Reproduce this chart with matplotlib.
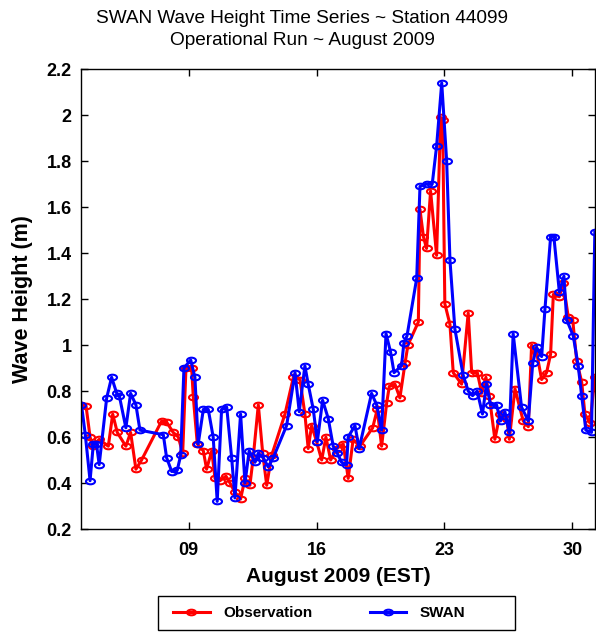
import numpy as np
import matplotlib
matplotlib.use('Agg')
import matplotlib.pyplot as plt
from matplotlib.path import Path
from matplotlib.patches import Rectangle
from matplotlib.ticker import FormatStrFormatter

plt.rcParams['font.family'] = ['Liberation Sans', 'DejaVu Sans']

# time in days of August 2009 (EST)
swan_t = [3.13, 3.34, 3.6, 3.78, 3.95, 4.1, 4.51, 4.78, 5.06, 5.2, 5.56, 5.82, 6.11, 6.33,
          7.61, 7.79, 8.07, 8.37, 8.56, 8.74, 9.11, 9.34, 9.52, 9.8, 10.07, 10.34, 10.56,
          10.8, 11.08, 11.35, 11.53, 11.84, 12.08, 12.31, 12.63, 12.81, 13.08, 13.35, 13.63,
          14.36, 14.82, 15.05, 15.36, 15.54, 15.82, 16.04, 16.33, 16.64, 16.91, 17.13, 17.37,
          17.64, 17.73, 18.1, 18.33, 19.01, 19.29, 19.56, 19.8, 20.05, 20.24, 20.65, 20.78,
          20.95, 21.48, 21.66, 22.02, 22.33, 22.57, 22.85, 23.12, 23.3, 23.57, 24.02, 24.3,
          24.54, 24.79, 25.08, 25.3, 25.52, 25.85, 26.07, 26.31, 26.55, 26.76, 27.22, 27.59,
          27.83, 28.04, 28.32, 28.5, 28.81, 28.99, 29.29, 29.54, 29.69, 30.05, 30.32, 30.51,
          30.74, 31.05, 31.23]
swan_h = [0.74, 0.61, 0.41, 0.57, 0.57, 0.48, 0.77, 0.86, 0.79, 0.78, 0.64, 0.79, 0.74, 0.63,
          0.61, 0.51, 0.45, 0.455, 0.52, 0.90, 0.935, 0.86, 0.57, 0.72, 0.72, 0.60, 0.32,
          0.72, 0.73, 0.51, 0.335, 0.70, 0.40, 0.54, 0.49, 0.53, 0.51, 0.47, 0.51,
          0.65, 0.88, 0.71, 0.91, 0.83, 0.72, 0.58, 0.76, 0.68, 0.56, 0.53, 0.49,
          0.48, 0.60, 0.65, 0.55, 0.79, 0.74, 0.63, 1.05, 0.97, 0.88, 0.91, 1.01,
          1.04, 1.29, 1.69, 1.70, 1.70, 1.865, 2.14, 1.80, 1.37, 1.07, 0.87, 0.80,
          0.78, 0.80, 0.70, 0.83, 0.74, 0.74, 0.67, 0.71, 0.62, 1.05, 0.73, 0.67,
          0.92, 0.99, 0.95, 1.155, 1.47, 1.47, 1.23, 1.30, 1.11, 1.04, 0.91, 0.78,
          0.63, 0.62, 1.49]

obs_t = [3.13, 3.38, 3.6, 3.75, 4.1, 4.6, 4.84, 5.09, 5.56, 5.82, 6.11, 6.42,
         7.52, 7.79, 8.15, 8.43, 8.67, 8.85, 9.16, 9.25, 9.47, 9.8, 9.98, 10.26, 10.44,
         10.71, 11.04, 11.26, 11.53, 11.84, 12.08, 12.35, 12.53, 12.81, 13.05, 13.27, 13.54,
         14.27, 14.73, 15.09, 15.36, 15.54, 15.73, 16.0, 16.28, 16.51, 16.77, 17.1, 17.46,
         17.73, 18.0, 18.37, 19.07, 19.32, 19.56, 19.84, 19.98, 20.29, 20.56, 20.84, 21.0,
         21.57, 21.66, 21.85, 22.02, 22.24, 22.57, 22.79, 22.9, 23.02, 23.3, 23.48, 23.94,
         24.3, 24.49, 24.8, 25.04, 25.27, 25.45, 25.76, 26.04, 26.41, 26.55, 26.86, 27.31,
         27.59, 27.77, 28.04, 28.32, 28.59, 28.81, 28.96, 29.29, 29.5, 29.78, 30.02, 30.24,
         30.51, 30.69, 30.97, 31.23]
obs_h = [0.74, 0.735, 0.60, 0.56, 0.59, 0.56, 0.70, 0.62, 0.56, 0.62, 0.46, 0.50,
         0.67, 0.665, 0.62, 0.60, 0.53, 0.90, 0.90, 0.775, 0.57, 0.54, 0.46, 0.54, 0.42,
         0.41, 0.43, 0.40, 0.36, 0.33, 0.42, 0.39, 0.51, 0.74, 0.53, 0.39, 0.52,
         0.70, 0.86, 0.85, 0.70, 0.55, 0.65, 0.58, 0.50, 0.60, 0.50, 0.55, 0.57,
         0.42, 0.59, 0.56, 0.64, 0.72, 0.56, 0.75, 0.82, 0.83, 0.77, 0.92, 1.0,
         1.10, 1.59, 1.47, 1.42, 1.67, 1.39, 1.99, 1.98, 1.18, 1.09, 0.88, 0.83,
         1.14, 0.88, 0.88, 0.79, 0.86, 0.78, 0.59, 0.70, 0.68, 0.59, 0.81, 0.67,
         0.645, 1.00, 0.97, 0.85, 0.88, 0.96, 1.22, 1.21, 1.27, 1.12, 1.11, 0.93,
         0.84, 0.70, 0.66, 0.86]

day_ticks = [9, 16, 23, 30]
day_labels = ['09', '16', '23', '30']

# squashed circle, the markers look like flat ellipses in the original
circ = Path.unit_circle()
ell = Path(circ.vertices * [1.0, 0.62], circ.codes)

fig = plt.figure(figsize=(5.96, 6.34), dpi=100)
ax = fig.add_axes([0.1367, 0.1656, 0.8613, 0.7254])

ax.plot(obs_t, obs_h, '-', marker=ell, color='red', lw=2.2, ms=6.5, mfc='none', mew=1.5,
        label='Observation')
ax.plot(swan_t, swan_h, '-', marker=ell, color='blue', lw=2.2, ms=6.5, mfc='none', mew=1.5,
        label='SWAN')

ax.set_xlim(3.13, 31.23)
ax.set_ylim(0.2, 2.2)
ax.set_xticks(day_ticks)
ax.set_xticklabels(day_labels)
ax.set_yticks(np.arange(0.2, 2.21, 0.2))
ax.yaxis.set_major_formatter(FormatStrFormatter('%g'))
ax.tick_params(direction='in', top=True, right=True, length=5, width=1,
               labelsize=13, pad=7)
for lab in ax.get_xticklabels() + ax.get_yticklabels():
    lab.set_fontweight('bold')
ax.tick_params(axis='x', pad=9)
for s in ax.spines.values():
    s.set_linewidth(1)

ax.set_xlabel('August 2009 (EST)', fontsize=15, fontweight='bold', labelpad=6)
ax.set_ylabel('Wave Height (m)', fontsize=15.5, fontweight='bold', labelpad=10)
fig.text(0.507, 1 - 29.5 / 634,
         'SWAN Wave Height Time Series ~ Station 44099\nOperational Run ~ August 2009',
         ha='center', va='center', fontsize=13.7, linespacing=1.42)

# legend box
fig.patches.append(Rectangle((158 / 596, 1 - 630 / 634), 357 / 596, 34 / 634,
                             transform=fig.transFigure, fill=False,
                             edgecolor='black', lw=1))
fig.legend(loc='center left', bbox_to_anchor=(173 / 596, 1 - 613 / 634), ncol=2,
           frameon=False, borderpad=0, borderaxespad=0, handlelength=2.42,
           handletextpad=0.85, columnspacing=3.75,
           prop={'size': 11, 'weight': 'bold'})

fig.savefig('out.png', dpi=100)
